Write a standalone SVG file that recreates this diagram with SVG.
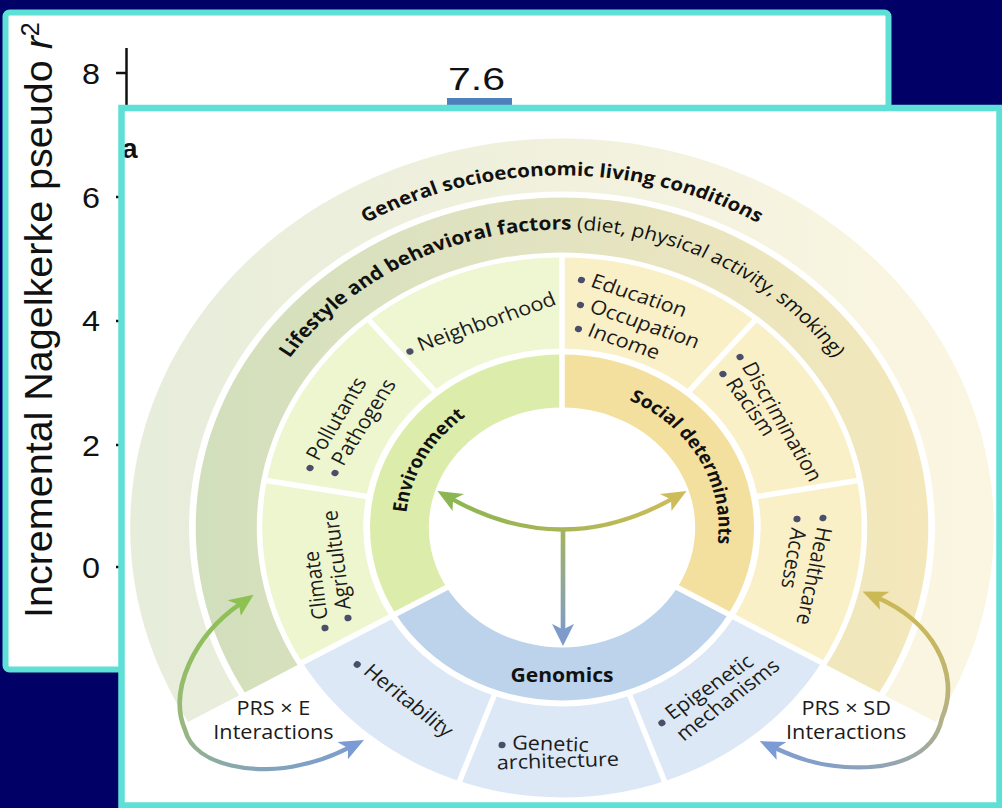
<svg xmlns="http://www.w3.org/2000/svg" width="1002" height="808" viewBox="0 0 1002 808">
<style>
.ax{font-family:"Liberation Sans",Arial,sans-serif;fill:#111}
.lb{font-family:"Open Sans","Noto Sans",sans-serif;font-size:19.5px;fill:#1b1b1b}
.bd{font-family:"Open Sans","Noto Sans",sans-serif;font-weight:700;fill:#111}
.bul{fill:#4a4e6a}
.sep{stroke:#fff;stroke-width:5.5;vector-effect:non-scaling-stroke;fill:none}
.arr{fill:none;stroke-width:4.2}
.tick{stroke:#111;stroke-width:2.5}
</style>
<defs>
<linearGradient id="gD" x1="0" y1="0" x2="1" y2="0"><stop offset="0" stop-color="#e7eddb"/><stop offset="0.5" stop-color="#f1f1dd"/><stop offset="1" stop-color="#fbf6e2"/></linearGradient>
<linearGradient id="gC" x1="0" y1="0" x2="1" y2="0"><stop offset="0" stop-color="#d2dfbc"/><stop offset="0.5" stop-color="#e3e3c1"/><stop offset="1" stop-color="#f4e8bb"/></linearGradient>
<linearGradient id="gL" gradientUnits="userSpaceOnUse" x1="-300" y1="70" x2="-200" y2="240"><stop offset="0" stop-color="#8dc152"/><stop offset="0.45" stop-color="#9ab77e"/><stop offset="1" stop-color="#7a9bd4"/></linearGradient>
<linearGradient id="gR" gradientUnits="userSpaceOnUse" x1="290" y1="70" x2="200" y2="240"><stop offset="0" stop-color="#cbb955"/><stop offset="0.45" stop-color="#b2b08a"/><stop offset="1" stop-color="#7a9bd4"/></linearGradient>
<linearGradient id="gH" gradientUnits="userSpaceOnUse" x1="-100" y1="0" x2="100" y2="0"><stop offset="0" stop-color="#8cb651"/><stop offset="0.5" stop-color="#a9b556"/><stop offset="1" stop-color="#ccbc5a"/></linearGradient>
<linearGradient id="gV" gradientUnits="userSpaceOnUse" x1="0" y1="0" x2="0" y2="110"><stop offset="0" stop-color="#a5b45c"/><stop offset="1" stop-color="#7d9bcb"/></linearGradient>
<marker id="mG" viewBox="0 0 20 20" refX="6" refY="10" markerWidth="22" markerHeight="22" markerUnits="userSpaceOnUse" orient="auto-start-reverse"><path d="M0,1 L20,10 L0,19 L5,10 Z" fill="#8dc152"/></marker>
<marker id="mB" viewBox="0 0 20 20" refX="6" refY="10" markerWidth="22" markerHeight="22" markerUnits="userSpaceOnUse" orient="auto-start-reverse"><path d="M0,1 L20,10 L0,19 L5,10 Z" fill="#7a9bd4"/></marker>
<marker id="mY" viewBox="0 0 20 20" refX="6" refY="10" markerWidth="22" markerHeight="22" markerUnits="userSpaceOnUse" orient="auto-start-reverse"><path d="M0,1 L20,10 L0,19 L5,10 Z" fill="#cbb955"/></marker>
<marker id="mCG" viewBox="0 0 20 20" refX="6" refY="10" markerWidth="22" markerHeight="22" markerUnits="userSpaceOnUse" orient="auto-start-reverse"><path d="M0,1 L20,10 L0,19 L5,10 Z" fill="#8cb651"/></marker>
<marker id="mCY" viewBox="0 0 20 20" refX="6" refY="10" markerWidth="22" markerHeight="22" markerUnits="userSpaceOnUse" orient="auto-start-reverse"><path d="M0,1 L20,10 L0,19 L5,10 Z" fill="#ccbc5a"/></marker>
<marker id="mCB" viewBox="0 0 20 20" refX="6" refY="10" markerWidth="22" markerHeight="22" markerUnits="userSpaceOnUse" orient="auto-start-reverse"><path d="M0,1 L20,10 L0,19 L5,10 Z" fill="#7d9bcb"/></marker>
<path id="pGen" d="M-330.8,-120.4 A352,352 0 0 1 330.8,-120.4"/>
<path id="pLife" d="M-298,0 A298,298 0 0 1 298,0"/>
<path id="pEnv" d="M-119.6,74.7 A141,141 0 0 1 0,-141"/>
<path id="pSoc" d="M52.8,-130.7 A141,141 0 0 1 138.9,24.5"/>
</defs>

<rect x="0" y="0" width="1002" height="808" fill="#000066"/>

<g id="back-panel">
<rect x="5.5" y="12.5" width="883" height="657" rx="4" fill="#fff" stroke="#5fe0d6" stroke-width="6"/>
<text class="ax" transform="translate(52,618) rotate(-90)" font-size="39.5">Incremental Nagelkerke pseudo <tspan font-style="italic">r</tspan><tspan font-size="25" dy="-13">2</tspan></text>
<line class="tick" x1="126.5" y1="48" x2="126.5" y2="680"/>
<line class="tick" x1="116" y1="73" x2="127" y2="73"/>
<line class="tick" x1="116" y1="197" x2="127" y2="197"/>
<line class="tick" x1="116" y1="321" x2="127" y2="321"/>
<line class="tick" x1="116" y1="445" x2="127" y2="445"/>
<line class="tick" x1="116" y1="567" x2="127" y2="567"/>
<text class="ax" font-size="29" text-anchor="middle" x="91" y="83.5" textLength="18" lengthAdjust="spacingAndGlyphs">8</text>
<text class="ax" font-size="29" text-anchor="middle" x="91" y="207.5" textLength="18" lengthAdjust="spacingAndGlyphs">6</text>
<text class="ax" font-size="29" text-anchor="middle" x="91" y="331" textLength="18" lengthAdjust="spacingAndGlyphs">4</text>
<text class="ax" font-size="29" text-anchor="middle" x="91" y="455.5" textLength="18" lengthAdjust="spacingAndGlyphs">2</text>
<text class="ax" font-size="29" text-anchor="middle" x="91" y="577.5" textLength="18" lengthAdjust="spacingAndGlyphs">0</text>
<text class="ax" font-size="31" text-anchor="middle" x="476.5" y="89.5" textLength="57" lengthAdjust="spacingAndGlyphs">7.6</text>
<rect x="447" y="98" width="65" height="14" fill="#4f80bb"/>
</g>

<rect id="front-panel" x="121.5" y="108" width="878" height="697.5" fill="#fff"/>
<text class="ax" x="122" y="158" font-size="28" font-weight="700">a</text>

<g id="diagram" transform="translate(562,527.5) scale(1.11,1)">
<g id="general-conditions">
<path d="M-336.9,194.5 A389,389 0 1 1 336.9,194.5 L291,168 A336,336 0 1 0 -291,168 Z" fill="url(#gD)"/>
<text class="bd" font-size="18.5" text-anchor="middle"><textPath href="#pGen" startOffset="50%">General socioeconomic living conditions</textPath></text>
</g>
<g id="lifestyle-factors">
<path d="M-285.8,165 A330,330 0 1 1 285.8,165 L238.2,137.5 A275,275 0 1 0 -238.2,137.5 Z" fill="url(#gC)"/>
<text class="bd" font-size="18.8" text-anchor="middle"><textPath href="#pLife" startOffset="50%">Lifestyle and behavioral factors<tspan font-weight="400"> (diet, physical activity, smoking)</tspan></textPath></text>
</g>
<g id="environment">
<path d="M-149.8,86.5 A173,173 0 0 1 0,-173 L0,-120 A120,120 0 0 0 -103.9,60 Z" fill="#dcedab"/>
<text class="bd" font-size="17.5" text-anchor="middle"><textPath href="#pEnv" startOffset="50%">Environment</textPath></text>
</g>
<g id="social-determinants">
<path d="M0,-173 A173,173 0 0 1 149.8,86.5 L103.9,60 A120,120 0 0 0 0,-120 Z" fill="#f3e09e"/>
<text class="bd" font-size="17.5" text-anchor="middle"><textPath href="#pSoc" startOffset="50%">Social determinants</textPath></text>
</g>
<g id="genomics">
<path d="M149.8,86.5 A173,173 0 0 1 -149.8,86.5 L-103.9,60 A120,120 0 0 0 103.9,60 Z" fill="#bcd3eb"/>
<text class="bd" font-size="19" text-anchor="middle" x="0" y="154.5">Genomics</text>
</g>
<g id="climate">
<path d="M-233.8,135 A270,270 0 0 1 -265.9,-46.9 L-176.3,-31.1 A179,179 0 0 0 -155,89.5 Z" fill="#edf6cf"/>
<g transform="translate(-213.5,100.5) rotate(-97)"><circle class="bul" r="3.2"/><text class="lb" x="9" y="3.5">Climate</text></g>
<g transform="translate(-192.8,90.5) rotate(-97)"><circle class="bul" r="3.2"/><text class="lb" x="9" y="3.5">Agriculture</text></g>
</g>
<g id="pollutants">
<path d="M-265.9,-46.9 A270,270 0 0 1 -173.6,-206.8 L-115.1,-137.1 A179,179 0 0 0 -176.3,-31.1 Z" fill="#edf6cf"/>
<g transform="translate(-227,-59.5) rotate(-61)"><circle class="bul" r="3.2"/><text class="lb" x="9" y="3.5">Pollutants</text></g>
<g transform="translate(-204.5,-54.5) rotate(-60)"><circle class="bul" r="3.2"/><text class="lb" x="9" y="3.5">Pathogens</text></g>
</g>
<g id="neighborhood">
<path d="M-173.6,-206.8 A270,270 0 0 1 0,-270 L0,-179 A179,179 0 0 0 -115.1,-137.1 Z" fill="#eef6d2"/>
<g transform="translate(-137,-176) rotate(-21)"><circle class="bul" r="3.2"/><text class="lb" x="9" y="3.5">Neighborhood</text></g>
</g>
<g id="education">
<path d="M0,-270 A270,270 0 0 1 173.6,-206.8 L115.1,-137.1 A179,179 0 0 0 0,-179 Z" fill="#faf0c8"/>
<g transform="translate(17.5,-247.5) rotate(20)"><circle class="bul" r="3.2"/><text class="lb" x="9" y="3.5">Education</text></g>
<g transform="translate(16.6,-222.5) rotate(21)"><circle class="bul" r="3.2"/><text class="lb" x="9" y="3.5">Occupation</text></g>
<g transform="translate(14.8,-198.5) rotate(21)"><circle class="bul" r="3.2"/><text class="lb" x="9" y="3.5">Income</text></g>
</g>
<g id="discrimination">
<path d="M173.6,-206.8 A270,270 0 0 1 265.9,-46.9 L176.3,-31.1 A179,179 0 0 0 115.1,-137.1 Z" fill="#faf0c8"/>
<g transform="translate(160.4,-170.5) rotate(62)"><circle class="bul" r="3.2"/><text class="lb" x="9" y="3.5">Discrimination</text></g>
<g transform="translate(145,-153.5) rotate(57)"><circle class="bul" r="3.2"/><text class="lb" x="9" y="3.5">Racism</text></g>
</g>
<g id="healthcare">
<path d="M265.9,-46.9 A270,270 0 0 1 233.8,135 L155,89.5 A179,179 0 0 0 176.3,-31.1 Z" fill="#faf0c8"/>
<g transform="translate(235.1,-9.5) rotate(101)"><circle class="bul" r="3.2"/><text class="lb" x="9" y="3.5">Healthcare</text></g>
<g transform="translate(211.7,-8.5) rotate(99)"><circle class="bul" r="3.2"/><text class="lb" x="9" y="3.5">Access</text></g>
</g>
<g id="epigenetic">
<path d="M233.8,135 A270,270 0 0 1 92.3,253.7 L61.2,168.2 A179,179 0 0 0 155,89.5 Z" fill="#dce8f6"/>
<g transform="translate(90,195.5) rotate(-37)"><circle class="bul" r="3.2"/><text class="lb" x="9" y="3.5">Epigenetic</text><text class="lb" x="3" y="27" transform="rotate(-3)">mechanisms</text></g>
</g>
<g id="genetic-architecture">
<path d="M92.3,253.7 A270,270 0 0 1 -92.3,253.7 L-61.2,168.2 A179,179 0 0 0 61.2,168.2 Z" fill="#dce8f6"/>
<g transform="translate(-54,217.5) rotate(2)"><circle class="bul" r="3.2"/><text class="lb" x="9" y="4">Genetic</text></g>
<text class="lb" transform="translate(-58.5,242) rotate(-2)">architecture</text>
</g>
<g id="heritability">
<path d="M-92.3,253.7 A270,270 0 0 1 -233.8,135 L-155,89.5 A179,179 0 0 0 -61.2,168.2 Z" fill="#dce8f6"/>
<g transform="translate(-184.5,137) rotate(41)"><circle class="bul" r="3.2"/><text class="lb" x="9" y="3.5">Heritability</text></g>
</g>
<g id="separators">
<path class="sep" d="M0,-117 L0,-176 M-101.3,58.5 L-152.4,88 M101.3,58.5 L152.4,88"/>
<path class="sep" d="M-174.3,-30.7 L-267.9,-47.2 M-113.8,-135.6 L-174.8,-208.4 M0,-177 L0,-272 M113.8,-135.6 L174.8,-208.4 M174.3,-30.7 L267.9,-47.2 M153.3,88.5 L235.6,136 M60.5,166.3 L93,255.6 M-60.5,166.3 L-93,255.6 M-153.3,88.5 L-235.6,136"/>
</g>
<g id="prs-e">
<text class="lb" text-anchor="middle" x="-260" y="188">PRS × E</text>
<text class="lb" text-anchor="middle" x="-260" y="211.5">Interactions</text>
</g>
<g id="prs-sd">
<text class="lb" text-anchor="middle" x="256" y="188">PRS × SD</text>
<text class="lb" text-anchor="middle" x="256" y="211.5">Interactions</text>
</g>
<g id="connectors">
<path class="arr" stroke="url(#gL)" d="M-290.1,76.5 C-330.6,107.5 -355,162.5 -339.6,202.5 C-330.6,240.5 -272.1,247.5 -236,237.5 C-213.5,232.5 -200,224.5 -191.9,220" marker-start="url(#mG)" marker-end="url(#mB)"/>
<path class="arr" stroke="url(#gR)" d="M284.7,70.5 C331.5,92.5 360.4,144.5 342.3,190.5 C335.1,230.5 295.5,242.5 255,239.5 C227.9,237.5 209.9,229.5 191.9,220.5" marker-start="url(#mY)" marker-end="url(#mB)"/>
<path class="arr" stroke="url(#gH)" d="M-99.1,-28.5 Q0,32.5 99.1,-28.5" marker-start="url(#mCG)" marker-end="url(#mCY)"/>
<path class="arr" stroke="url(#gV)" d="M0.9,2.5 L0.9,103" marker-end="url(#mCB)"/>
</g>
</g>

<rect x="121.5" y="108" width="878" height="697.5" fill="none" stroke="#5fe0d6" stroke-width="6.5"/>
</svg>
